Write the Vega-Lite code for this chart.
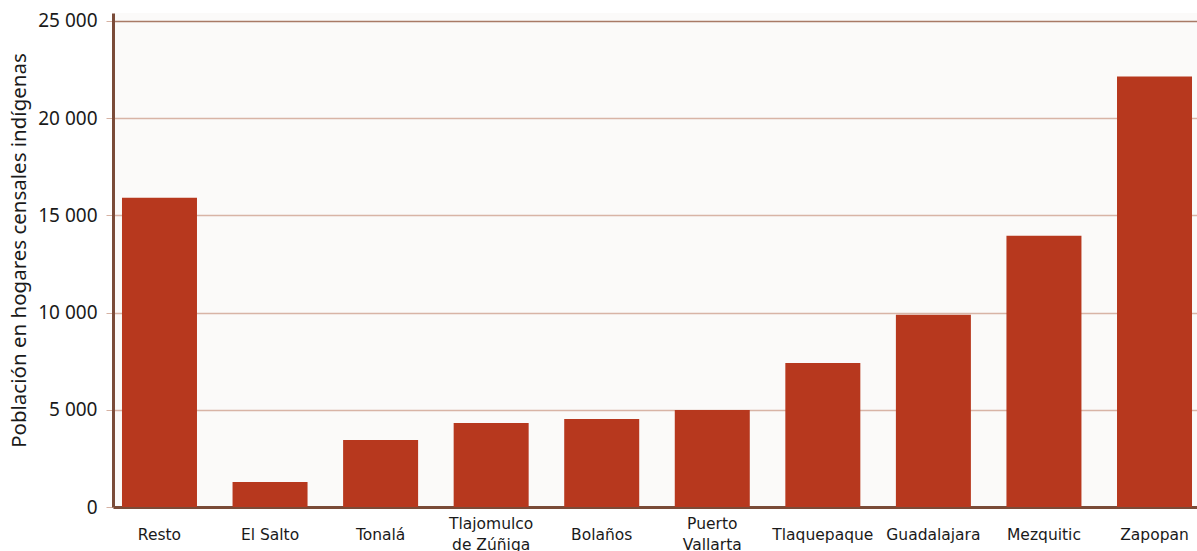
{
  "$schema": "https://vega.github.io/schema/vega-lite/v6.json",
  "width": 1084,
  "height": 494,
  "autosize": {"type": "none"},
  "padding": {"left": 113, "top": 13, "right": 0, "bottom": 44},
  "background": "#ffffff",
  "config": {
    "view": {"fill": "#fbfaf9", "stroke": null}
  },
  "data": {
    "values": [
      {"municipio": "Resto", "poblacion": 15900},
      {"municipio": "El Salto", "poblacion": 1290},
      {"municipio": "Tonalá", "poblacion": 3450},
      {"municipio": "Tlajomulco|de Zúñiga", "poblacion": 4320},
      {"municipio": "Bolaños", "poblacion": 4530},
      {"municipio": "Puerto|Vallarta", "poblacion": 4990},
      {"municipio": "Tlaquepaque", "poblacion": 7410},
      {"municipio": "Guadalajara", "poblacion": 9880},
      {"municipio": "Mezquitic", "poblacion": 13950},
      {"municipio": "Zapopan", "poblacion": 22130}
    ]
  },
  "mark": {"type": "bar", "color": "#b7381e"},
  "encoding": {
    "x": {
      "field": "municipio",
      "type": "nominal",
      "sort": null,
      "scale": {"paddingInner": 0.3216, "paddingOuter": 0.0632, "align": 0.643},
      "axis": {
        "title": null,
        "labelAngle": 0,
        "labelExpr": "split(datum.label, '|')",
        "labelFont": "DejaVu Sans",
        "labelFontSize": 15.5,
        "labelColor": "#1a1a1a",
        "labelBaseline": {"condition": {"test": "indexof(datum.value, '|') >= 0", "value": "line-bottom"}, "value": "middle"},
        "labelPadding": 27,
        "labelLineHeight": 21,
        "ticks": false,
        "domainColor": "#7a4b38",
        "domainWidth": 3,
        "grid": false
      }
    },
    "y": {
      "field": "poblacion",
      "type": "quantitative",
      "scale": {"domain": [0, 25400], "nice": false},
      "axis": {
        "title": "Población en hogares censales indígenas",
        "titleFont": "Noto Sans",
        "titleFontSize": 20.5,
        "titleFontWeight": "normal",
        "titleColor": "#1a1a1a",
        "titlePadding": 8,
        "titleY": 237,
        "values": [0, 5000, 10000, 15000, 20000, 25000],
        "labelExpr": "replace(format(datum.value, ',d'), ',', ' ')",
        "labelFont": "Noto Sans",
        "labelFontSize": 19,
        "labelColor": "#1a1a1a",
        "labelPadding": 9,
        "tickSize": 7,
        "tickColor": "#d6b2a3",
        "domainColor": "#7a4b38",
        "domainWidth": 3,
        "grid": true,
        "gridColor": {"condition": {"test": "datum.value === 25000", "value": "#a87a66"}, "value": "#d8b4a6"},
        "gridWidth": 1.5
      }
    }
  }
}
